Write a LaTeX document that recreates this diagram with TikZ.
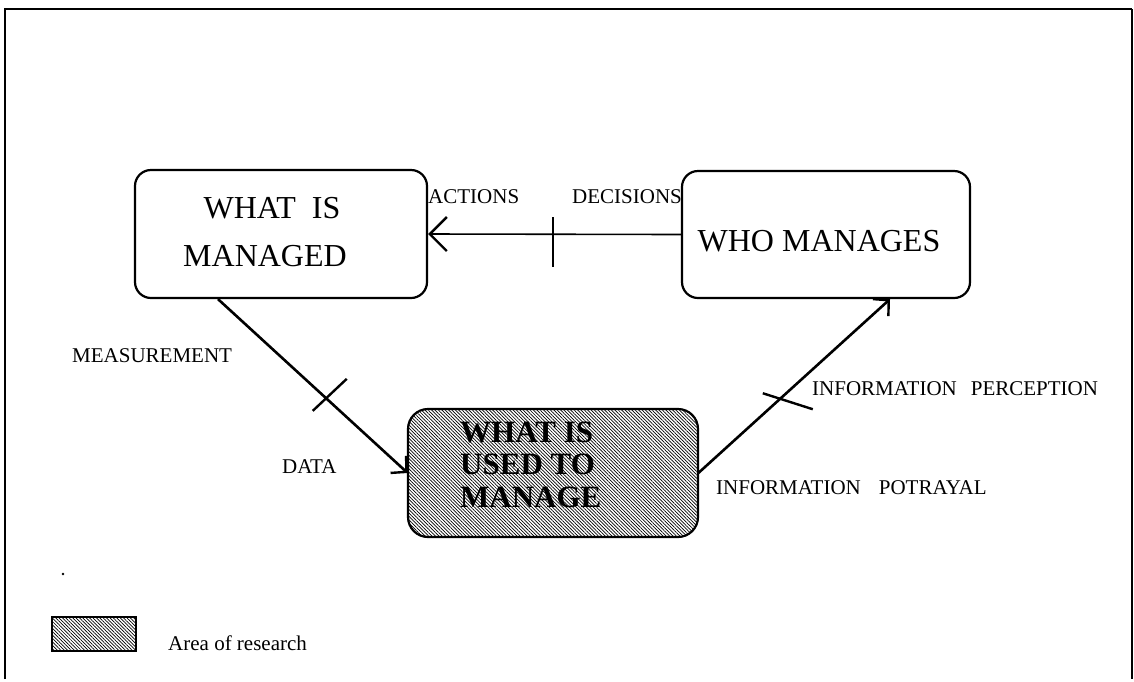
\documentclass[tikz,border=0pt]{standalone}
\usepackage{fontspec}
\setmainfont{Liberation Serif}
\usetikzlibrary{arrows.meta,patterns.meta,calc}
\begin{document}
\begin{tikzpicture}[x=1pt,y=-1pt,
  box/.style={draw, line width=2.2pt, inner sep=0pt},
  hatch/.style={pattern={Lines[angle=-45,distance=2.4pt,line width=0.7pt]}},
  boxtxt/.style={font=\fontsize{32}{38}\selectfont, anchor=base, inner sep=0pt},
  boldtxt/.style={font=\fontsize{31}{37}\selectfont\bfseries, anchor=base west, inner sep=0pt},
  lbl/.style={font=\fontsize{21}{25}\selectfont, anchor=base west, inner sep=0pt},
  conn/.style={line width=2.6pt},
  thinconn/.style={line width=1.6pt},
  tickmark/.style={line width=2.4pt},
  barbbig/.style={-{Straight Barb[length=17pt,width=34pt,line width=2.4pt]}},
  barbsmall/.style={-{Straight Barb[length=11pt,width=23pt,line width=2.4pt]}},
]
\fill[white] (0,0) rectangle (1134,681);
\useasboundingbox (0,0) rectangle (1134,681);

% frame
\draw[line width=2.5pt] (5,679) -- (5,9) -- (1132,9);
\draw[line width=1.4pt] (1132,9) -- (1132,679);

% boxes
\node[box, rounded corners=16pt, minimum width=292pt, minimum height=128pt] (wim) at (281,234) {};
\node[box, rounded corners=16pt, minimum width=288pt, minimum height=127pt] (who) at (826,234.5) {};
\node[box, hatch, rounded corners=20pt, minimum width=290pt, minimum height=128pt] (used) at (553,473) {};

% box texts
\node[boxtxt] (wimA) at (272,218) {WHAT\ \ IS};
\node[boxtxt] (wimB) at (265,266) {MANAGED};
\node[boxtxt] (whoA) at (819,251) {WHO MANAGES};
\node[boldtxt] (usedA) at (460,442) {WHAT IS};
\node[boldtxt] (usedB) at (460,474) {USED TO};
\node[boldtxt] (usedC) at (460,507) {MANAGE};

% connectors
\draw[thinconn, barbbig] (who.west) -- (wim.east) coordinate[pos=0.506] (t1);
\draw[tickmark] ($(t1)+(0,-17)$) -- ($(t1)+(0,33)$);

\draw[conn, barbsmall] ([xshift=-63pt]wim.south) -- (used.west) coordinate[pos=0.568] (t2);
\draw[tickmark] ($(t2)+(-13,13)$) -- ($(t2)+(21,-19)$);

\draw[conn, barbsmall] (used.east) -- ([xshift=64pt]who.south) coordinate[pos=0.43] (t3);
\draw[tickmark] ($(t3)+(-18,-5)$) -- ($(t3)+(32,11)$);

% labels
\node[lbl] (actions) at (428,203) {ACTIONS};
\node[lbl] (decisions) at (572,203) {DECISIONS};
\node[lbl] (measurement) at (72,362) {MEASUREMENT};
\node[lbl] (data) at (282,473) {DATA};
\node[lbl] (perception) at (812,395) {INFORMATION\hspace{14pt}PERCEPTION};
\node[lbl] (portrayal) at (716,494) {INFORMATION\hspace{18pt}POTRAYAL};

% legend
\fill (63,574) circle (1.3pt);
\node[box, hatch, minimum width=84pt, minimum height=34pt] (legend) at (94,634) {};
\node[lbl] (legendtxt) at (168,650) {Area of research};
\end{tikzpicture}
\end{document}
